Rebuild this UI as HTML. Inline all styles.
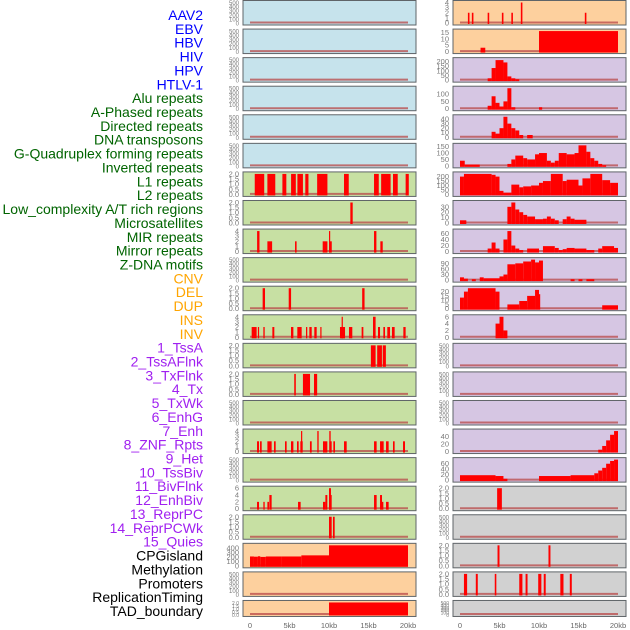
<!DOCTYPE html>
<html><head><meta charset="utf-8">
<style>
html,body{margin:0;padding:0;background:#fff;width:630px;height:630px;overflow:hidden}
svg{display:block;font-family:"Liberation Sans",sans-serif}
</style></head>
<body>
<svg id="chart" width="630" height="630" viewBox="0 0 630 630" xmlns="http://www.w3.org/2000/svg"></svg>
<script>
// ---------- data ----------
const trackLabels = ["AAV2","EBV","HBV","HIV","HPV","HTLV-1","Alu repeats","A-Phased repeats","Directed repeats","DNA transposons","G-Quadruplex forming repeats","Inverted repeats","L1 repeats","L2 repeats","Low_complexity A/T rich regions","Microsatellites","MIR repeats","Mirror repeats","Z-DNA motifs","CNV","DEL","DUP","INS","INV","1_TssA","2_TssAFlnk","3_TxFlnk","4_Tx","5_TxWk","6_EnhG","7_Enh","8_ZNF_Rpts","9_Het","10_TssBiv","11_BivFlnk","12_EnhBiv","13_ReprPC","14_ReprPCWk","15_Quies","CPGisland","Methylation","Promoters","ReplicationTiming","TAD_boundary"];
const labelColors = ["#0000ff","#0000ff","#0000ff","#0000ff","#0000ff","#0000ff","#006400","#006400","#006400","#006400","#006400","#006400","#006400","#006400","#006400","#006400","#006400","#006400","#006400","#ffa500","#ffa500","#ffa500","#ffa500","#ffa500","#a020f0","#a020f0","#a020f0","#a020f0","#a020f0","#a020f0","#a020f0","#a020f0","#a020f0","#a020f0","#a020f0","#a020f0","#a020f0","#a020f0","#a020f0","#000","#000","#000","#000","#000"];
const xTicks = [0,5,10,15,20];
const xTickLabels = ["0","5kb","10kb","15kb","20kb"];

const emptyBars = [];
const ticks500 = [0,100,200,300,400,500];
const ticks2 = [0,0.5,1,1.5,2];
const ticks4 = [0,1,2,3,4];

const l1Bars = [[0.6,1.8,2],[2.2,3.2,2],[4.1,4.6,2],[5.2,5.8,2],[6,6.7,2],[7,7.4,2],[8.5,9.8,2],[11.9,12.5,2],[15.7,16.3,2],[16.6,17.8,2],[18.1,18.7,2],[19.7,20.1,2]];
const l2Bars = [[12.7,13.0,2]];
const mirBars = [[0.9,1.2,4],[2.2,2.8,2],[5.7,5.9,2],[9.2,9.8,2],[10.0,10.35,2],[10.0,10.15,4],[15.7,16.0,4],[16.5,16.8,2]];
const microBars = [[1.6,1.9,2],[4.9,5.2,2],[14.2,14.5,2]];
const mirrorBars = [[0.21,0.84,2],[1.0,1.15,2],[1.69,1.86,2],[2.83,3.08,2],[5.19,5.49,2],[5.99,6.54,2],[7.09,7.25,2],[7.51,7.81,2],[8.14,8.44,2],[8.9,9.05,2],[11.39,12.03,2],[11.6,11.75,4],[12.53,12.95,2],[14.13,14.35,2],[15.57,15.9,4],[16.2,16.46,2],[16.88,17.09,2],[17.38,17.72,2],[17.97,18.31,2],[19.41,19.7,2]];
const cnvBars = [[15.3,15.9,2],[16.1,16.7,2],[16.8,17.2,2]];
const delBars = [[5.6,5.8,2],[6.7,7.6,2],[8.1,8.5,2]];
const insBars = [[0.89,1.14,2],[1.27,1.48,2],[2.2,2.74,2],[3.04,3.25,2],[4.43,4.64,2],[5.19,5.49,2],[5.95,6.16,2],[6.37,6.67,2],[6.46,6.58,4],[7.59,7.81,2],[8.52,8.69,4],[9.24,9.79,2],[10.04,10.34,2],[10.04,10.21,4],[10.55,10.76,2],[11.9,12.24,2],[15.7,16.03,2],[16.46,16.92,2],[17.22,17.55,2],[18.1,18.31,2],[19.37,19.62,2]];
const invBars = [[0.89,1.14,2],[1.69,1.86,2],[2.2,2.41,2],[2.45,2.74,4],[6.08,6.41,2],[9.24,9.54,2],[9.54,9.79,4],[10.0,10.34,4],[10.0,10.25,6],[15.7,16.03,4],[16.46,16.71,4],[16.71,16.88,2],[17.22,17.55,2]];
const tssaBars = [[10.0,10.34,2],[10.5,10.72,2]];
const cpgBars = [[0,0.5,210],[0.5,1.0,205],[1.0,1.3,215],[1.3,2.0,200],[2.0,4.0,210],[4.0,6.5,210],[6.5,10.0,235],[10.0,20.0,460]];
const tadBars = [[10.0,20.0,2]];

const aavBars = [[1.0,1.2,2],[1.5,1.7,2],[3.5,3.7,2],[5.3,5.5,2],[6.5,6.7,2],[7.7,7.9,4],[15.8,16.0,2]];
const ebvBars = [[2.6,3.2,3],[10.0,20.0,16]];
const hivBins = [[3.5,4,20],[4,4.5,130],[4.5,5,215],[5,5.5,215],[5.5,6,190],[6,6.5,40],[6.5,7,20],[7,7.5,10]];
const hpvBins = [[3.5,4,20],[4,4.5,85],[4.5,5,40],[5,5.5,15],[5.5,6,50],[6,6.5,140],[6.5,7,10],[10,10.4,10]];
const htlvBins = [[4,4.5,12],[4.5,5,8],[5,5.5,20],[5.5,6,45],[6,6.5,30],[6.5,7,20],[7,7.5,15],[7.5,8,5],[8.5,9.2,5]];
const aluBins = [[0,0.6,40],[0.6,2.5,10],[6,6.5,15],[6.5,7,50],[7,8,80],[8,8.5,60],[8.5,9.5,50],[9.5,10,90],[10,11,100],[11,11.5,40],[11.5,12,25],[12,12.5,40],[12.5,13.5,100],[13.5,14.5,90],[14.5,15,100],[15,16,160],[16,16.5,110],[16.5,17,60],[17,17.5,40],[17.5,18,15],[18,18.5,5]];
const aphBins = [[0,0.5,200],[0.5,4,230],[4,4.5,220],[4.5,5,200],[5,5.5,40],[5.5,6.5,20],[6.5,7.5,110],[7.5,8,80],[8,9,90],[9,10,100],[10,10.5,130],[10.5,11.5,150],[11.5,13,230],[13,13.5,150],[13.5,15,165],[15,15.5,100],[15.5,16.5,180],[16.5,18,230],[18,19,160],[19,20,130]];
const dirBins = [[0,0.8,5],[6,6.5,30],[6.5,7,38],[7,7.5,25],[7.5,8,20],[8,8.5,15],[8.5,9.5,12],[9.5,10.5,7],[10.5,11,8],[11,11.5,12],[11.5,12,8],[12,12.5,5],[13,13.5,7],[13.5,14,12],[14,14.5,8],[14.5,16,6]];
const dnaBins = [[3.5,4,10],[4,4.5,30],[4.5,5,10],[5.5,6,40],[6,6.5,68],[6.5,7,20],[7,7.5,10],[7.5,8,5],[8.5,10,10],[10.5,12,18],[12,12.5,12],[12.5,13,5],[13,13.5,8],[13.5,14.5,12],[14.5,16,10],[16,17,5],[17.5,18,10],[18,19.5,18],[19.5,20,12]];
const gquadBins = [[0,0.5,15],[0.5,1,8],[1.5,2,5],[2.5,3,15],[3,5,10],[5,5.5,20],[5.5,6,30],[6,7,85],[7,8,90],[8,9,100],[9,9.5,110],[9.5,10,95],[10,10.5,105],[14,14.5,5],[15,15.5,5],[16,17,5]];
const invrBins = [[0,0.5,13],[0.5,1,20],[1,4.5,24],[4.5,5,20],[6,7.5,5],[7.5,8.5,9],[8.5,9.5,15],[9.5,10,22],[10,10.1,17],[18,20,4]];
const lowcBins = [[4.5,5,4],[5,5.5,6],[5.5,6,2]];
const znfBins = [[17.5,18,5],[18,18.5,15],[18.5,19,30],[19,19.5,45],[19.5,20,55]];
const hetBins = [[0,4.5,18],[4.5,5.5,15],[5.5,6,5],[10,14,15],[14,17,18],[17,17.5,25],[17.5,18,35],[18,18.5,45],[18.5,19,60],[19,19.5,70],[19.5,20,75]];
const bivBars = [[4.7,5.3,2]];
const methBars = [[4.75,5.0,2],[11.2,11.45,2]];
const promBars = [[0.5,0.9,2],[2.0,2.25,2],[4.4,4.6,2],[7.5,7.9,2],[8.3,8.55,2],[9.9,10.3,2],[10.6,10.85,2],[12.7,13.1,2],[13.9,14.15,2]];

const BLUE="#c6e3ec", GREEN="#c7e0a3", ORANGE="#fdd09e", PURPLE="#d6c6e3", GRAY="#d1d1d1";
function P(bg,bars,ticks,max,labs){return {bg:bg,bars:bars,ticks:ticks,max:max,labs:labs};}
const L2=["0.0","0.5","1.0","1.5","2.0"];
const rows = [
 [P(BLUE,emptyBars,ticks500,500), P(ORANGE,aavBars,ticks4,4)],
 [P(BLUE,emptyBars,ticks500,500), P(ORANGE,ebvBars,[0,5,10,15],16)],
 [P(BLUE,emptyBars,ticks500,500), P(PURPLE,hivBins,[0,50,100,150,200],220)],
 [P(BLUE,emptyBars,ticks500,500), P(PURPLE,hpvBins,[0,50,100],140)],
 [P(BLUE,emptyBars,ticks500,500), P(PURPLE,htlvBins,[0,10,20,30,40],45)],
 [P(BLUE,emptyBars,ticks500,500), P(PURPLE,aluBins,[0,50,100,150],160)],
 [P(GREEN,l1Bars,ticks2,2,L2), P(PURPLE,aphBins,[0,50,100,150,200],230)],
 [P(GREEN,l2Bars,ticks2,2,L2), P(PURPLE,dirBins,[0,10,20,30],38)],
 [P(GREEN,mirBars,ticks4,4), P(PURPLE,dnaBins,[0,20,40,60],68)],
 [P(GREEN,emptyBars,ticks500,500), P(PURPLE,gquadBins,[0,30,60,90],110)],
 [P(GREEN,microBars,ticks2,2,L2), P(PURPLE,invrBins,[0,5,10,15,20],24)],
 [P(GREEN,mirrorBars,ticks4,4), P(PURPLE,lowcBins,[0,2,4,6],6)],
 [P(GREEN,cnvBars,ticks2,2,L2), P(PURPLE,emptyBars,ticks500,500)],
 [P(GREEN,delBars,ticks2,2,L2), P(PURPLE,emptyBars,ticks500,500)],
 [P(GREEN,emptyBars,ticks500,500), P(PURPLE,emptyBars,ticks500,500)],
 [P(GREEN,insBars,ticks4,4), P(PURPLE,znfBins,[0,20,40],55)],
 [P(GREEN,emptyBars,ticks500,500), P(PURPLE,hetBins,[0,20,40,60],75)],
 [P(GREEN,invBars,[0,2,4,6],6), P(GRAY,bivBars,ticks2,2,L2)],
 [P(GREEN,tssaBars,ticks2,2,L2), P(GRAY,emptyBars,ticks500,500)],
 [P(ORANGE,cpgBars,[0,100,200,300,400],460), P(GRAY,methBars,ticks2,2,L2)],
 [P(ORANGE,emptyBars,ticks500,500), P(GRAY,promBars,ticks2,2,L2)],
 [P(ORANGE,tadBars,ticks2,2,L2), P(GRAY,emptyBars,ticks500,500)]
];

const NS="http://www.w3.org/2000/svg";
const svg=document.getElementById('chart');
function mk(tag,attrs,parent){const e=document.createElementNS(NS,tag);for(const k in attrs)e.setAttribute(k,attrs[k]);(parent||svg).appendChild(e);return e;}

const cols=[{x0:243,x1:416,k0:250,kpx:7.9,tx:239},{x0:453,x1:626,k0:460,kpx:7.9,tx:449}];
function xScale(c,kb){return c.k0+kb*c.kpx;}

trackLabels.forEach((t,i)=>{
  const el=mk('text',{x:203,y:20+i*13.86,'text-anchor':'end','font-size':14,fill:labelColors[i]});
  
  
  el.textContent=t;
});

rows.forEach((row,ri)=>{
  const top=ri*28.57+0.5;
  const h=(ri===rows.length-1)?16:24.5;
  row.forEach((p,ci)=>{
    const c=cols[ci];
    const g=mk('g',{});
    
    
    const base=top+h-2, ytop=top+2;
    const yS=v=>base-(v/p.max)*(base-ytop);
    const bg=mk('rect',{x:c.x0,y:top,width:c.x1-c.x0,height:h,fill:p.bg,stroke:'#5f6468','stroke-width':1},g);
    
    
    const bl=mk('line',{x1:xScale(c,0),x2:xScale(c,20),y1:base-0.5,y2:base-0.5,stroke:'#b84848','stroke-opacity':0.75,'stroke-width':2},g);
    
    
    p.bars.forEach(b=>{
      const x=xScale(c,b[0]), w=Math.max(1.2,xScale(c,b[1])-x), y=Math.max(top+0.5,yS(b[2]));
      const r=mk('rect',{x:x,y:y,width:w,height:base-y+1,fill:'#ff0000'},g);
      
      
    });
    const last=ri===rows.length-1;
    const fs=last?5:(p.ticks.length>5?6:7.5);
    p.ticks.forEach((tv,ti)=>{
      const lab=p.labs?p.labs[ti]:String(tv);
      const t=mk('text',{x:c.tx,y:yS(tv)+2.5,'text-anchor':'end','font-size':fs,fill:'#7a7a7a'},g);
      
      
      t.textContent=lab;
    });
  });
});

cols.forEach((c,ci)=>{
  xTicks.forEach((kb,i)=>{
    const t=mk('text',{x:xScale(c,kb),y:628,'text-anchor':'middle','font-size':7.5,fill:'#666'});
    
    
    t.textContent=xTickLabels[i];
  });
});
</script>
</body></html>
